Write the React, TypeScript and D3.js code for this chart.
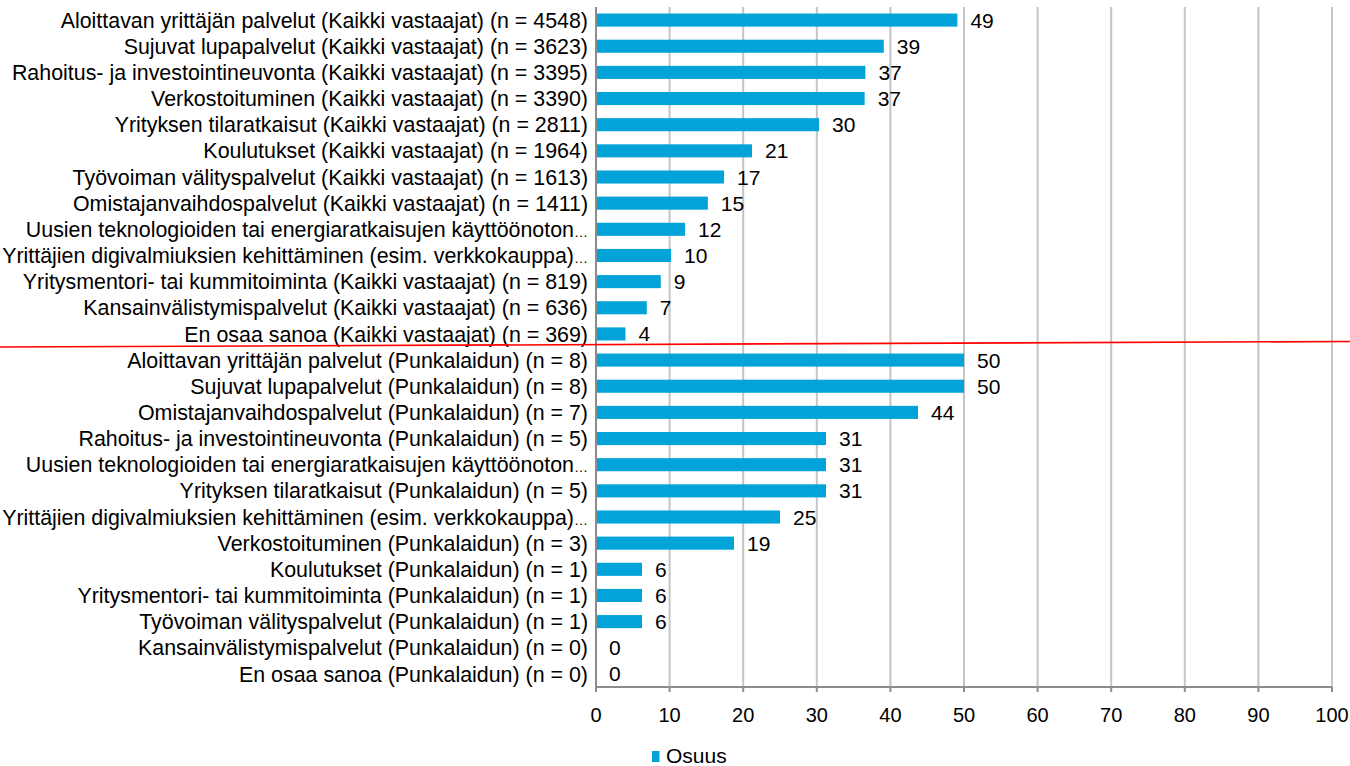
import React from "react";
import * as d3 from "d3";

const categories: string[] = [
  "Aloittavan yrittäjän palvelut (Kaikki vastaajat) (n = 4548)",
  "Sujuvat lupapalvelut (Kaikki vastaajat) (n = 3623)",
  "Rahoitus- ja investointineuvonta (Kaikki vastaajat) (n = 3395)",
  "Verkostoituminen (Kaikki vastaajat) (n = 3390)",
  "Yrityksen tilaratkaisut (Kaikki vastaajat) (n = 2811)",
  "Koulutukset (Kaikki vastaajat) (n = 1964)",
  "Työvoiman välityspalvelut (Kaikki vastaajat) (n = 1613)",
  "Omistajanvaihdospalvelut (Kaikki vastaajat) (n = 1411)",
  "Uusien teknologioiden tai energiaratkaisujen käyttöönoton…",
  "Yrittäjien digivalmiuksien kehittäminen (esim. verkkokauppa)…",
  "Yritysmentori- tai kummitoiminta (Kaikki vastaajat) (n = 819)",
  "Kansainvälistymispalvelut (Kaikki vastaajat) (n = 636)",
  "En osaa sanoa (Kaikki vastaajat) (n = 369)",
  "Aloittavan yrittäjän palvelut (Punkalaidun) (n = 8)",
  "Sujuvat lupapalvelut (Punkalaidun) (n = 8)",
  "Omistajanvaihdospalvelut (Punkalaidun) (n = 7)",
  "Rahoitus- ja investointineuvonta (Punkalaidun) (n = 5)",
  "Uusien teknologioiden tai energiaratkaisujen käyttöönoton…",
  "Yrityksen tilaratkaisut (Punkalaidun) (n = 5)",
  "Yrittäjien digivalmiuksien kehittäminen (esim. verkkokauppa)…",
  "Verkostoituminen (Punkalaidun) (n = 3)",
  "Koulutukset (Punkalaidun) (n = 1)",
  "Yritysmentori- tai kummitoiminta (Punkalaidun) (n = 1)",
  "Työvoiman välityspalvelut (Punkalaidun) (n = 1)",
  "Kansainvälistymispalvelut (Punkalaidun) (n = 0)",
  "En osaa sanoa (Punkalaidun) (n = 0)",
];

const values: number[] = [
  49.1, 39.1, 36.6, 36.5, 30.3, 21.2, 17.4, 15.2, 12.1, 10.2, 8.8, 6.9, 4.0,
  50, 50, 43.75, 31.25, 31.25, 31.25, 25, 18.75, 6.25, 6.25, 6.25, 0, 0,
];

const xTicks: number[] = [0, 10, 20, 30, 40, 50, 60, 70, 80, 90, 100];
const legendLabel = "Osuus";

const W = 1350;
const H = 766;
const FONT = "'Liberation Sans', Arial, sans-serif";
const BAR = "#02A3D9";

function Label({ text }: { text: string }) {
  if (text.endsWith("…")) {
    return (
      <>
        {text.slice(0, -1)}
        <tspan fontSize={14}>…</tspan>
      </>
    );
  }
  return <>{text}</>;
}

export default function App() {
  const x = d3.scaleLinear().domain([0, 100]).range([596, 1332]);
  const idx = categories.map((_, i) => String(i));
  const y = d3.scaleBand().domain(idx).range([7, 687]).paddingInner(0.5).paddingOuter(0.25);
  const bw = y.bandwidth();

  return (
    <svg width={W} height={H} style={{ position: "absolute", left: 0, top: 0, background: "#fff" }}>
      {xTicks.slice(1).map((t) => (
        <line key={"g" + t} x1={x(t)} x2={x(t)} y1={7} y2={687} stroke="#C4C4C4" strokeWidth={2} />
      ))}
      {values.map((v, i) => (
        <rect key={"b" + i} x={x(0)} y={y(String(i))!} width={x(v) - x(0)} height={bw} fill={BAR} />
      ))}
      {values.map((v, i) => (
        <text
          key={"v" + i}
          x={x(v) + 13}
          y={y(String(i))! + bw / 2}
          dy="0.36em"
          fontFamily={FONT}
          fontSize={21}
          fill="#000"
        >
          {Math.round(v)}
        </text>
      ))}
      {categories.map((c, i) => (
        <text
          key={"c" + i}
          x={588}
          y={y(String(i))! + bw / 2 + 7.6}
          textAnchor="end"
          fontFamily={FONT}
          fontSize={21.4}
          fill="#000"
        >
          <Label text={c} />
        </text>
      ))}
      <line x1={x(0)} x2={x(0)} y1={7} y2={692} stroke="#8C8C8C" strokeWidth={2} />
      <line x1={x(0)} x2={x(100)} y1={687} y2={687} stroke="#8C8C8C" strokeWidth={2} />
      {xTicks.map((t) => (
        <g key={"t" + t}>
          <line x1={x(t)} x2={x(t)} y1={687} y2={692} stroke="#8C8C8C" strokeWidth={2} />
          <text x={x(t)} y={715} dy="0.36em" textAnchor="middle" fontFamily={FONT} fontSize={20} fill="#000">
            {t}
          </text>
        </g>
      ))}
      <line x1={0} y1={347} x2={1350} y2={341.5} stroke="#FF0000" strokeWidth={1.6} />
      <rect x={652} y={751} width={7.5} height={11} fill={BAR} />
      <text x={666} y={755.5} dy="0.36em" fontFamily={FONT} fontSize={21} fill="#000">
        {legendLabel}
      </text>
    </svg>
  );
}
